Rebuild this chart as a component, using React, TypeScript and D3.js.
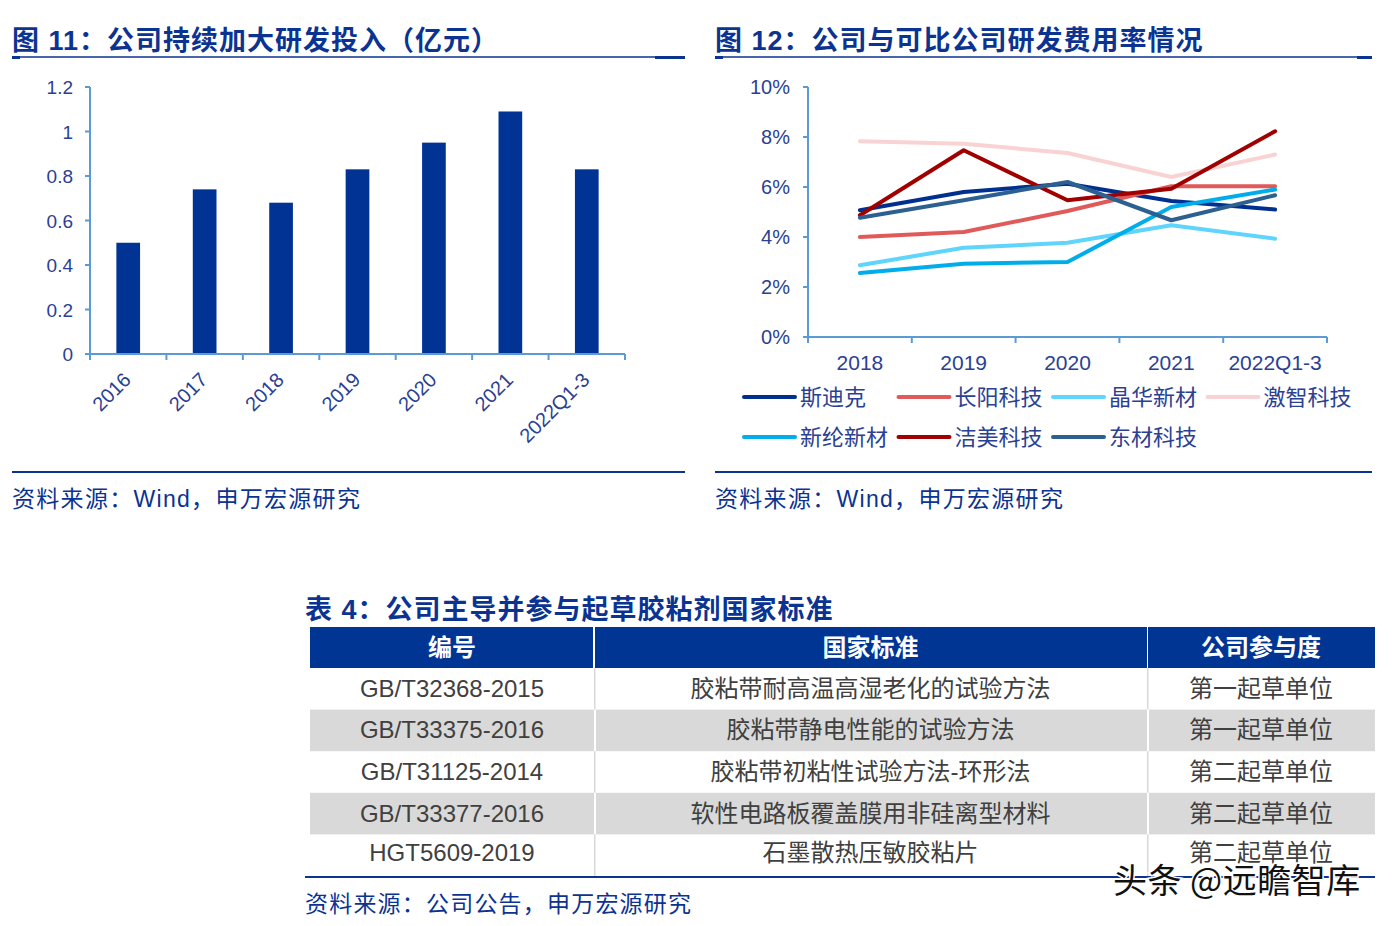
import React from "react";
import * as d3 from "d3";

const barCategories = ["2016", "2017", "2018", "2019", "2020", "2021", "2022Q1-3"];
const barValues = [0.5, 0.74, 0.68, 0.83, 0.95, 1.09, 0.83];
const barTicks = [0, 0.2, 0.4, 0.6, 0.8, 1, 1.2];

const lineCategories = ["2018", "2019", "2020", "2021", "2022Q1-3"];
const lineTicks = [0, 0.02, 0.04, 0.06, 0.08, 0.1];
const seriesNames = ["斯迪克", "长阳科技", "晶华新材", "激智科技", "新纶新材", "洁美科技", "东材科技"];
const seriesColors = ["#00308f", "#e05a5a", "#5fd4fc", "#f9d3d3", "#00adeb", "#a00000", "#2c6090"];
const sdk = [0.0507, 0.058, 0.0613, 0.0544, 0.051];
const cykj = [0.04, 0.042, 0.0504, 0.0603, 0.0603];
const jhxc = [0.0287, 0.0357, 0.0377, 0.0447, 0.0393];
const jzkj = [0.0783, 0.0773, 0.0736, 0.064, 0.073];
const xlxc = [0.0256, 0.0293, 0.03, 0.052, 0.059];
const jmkj = [0.0487, 0.0747, 0.0547, 0.0593, 0.0823];
const dckj = [0.0477, 0.0547, 0.062, 0.0467, 0.0567];
const seriesValues = [sdk, cykj, jhxc, jzkj, xlxc, jmkj, dckj];

const tableHeader = ["编号", "国家标准", "公司参与度"];
const colCode = ["GB/T32368-2015", "GB/T33375-2016", "GB/T31125-2014", "GB/T33377-2016", "HGT5609-2019"];
const colStandard = ["胶粘带耐高温高湿老化的试验方法", "胶粘带静电性能的试验方法", "胶粘带初粘性试验方法-环形法", "软性电路板覆盖膜用非硅离型材料", "石墨散热压敏胶粘片"];
const colRole = ["第一起草单位", "第一起草单位", "第二起草单位", "第二起草单位", "第二起草单位"];

const FONT = "'Liberation Sans', Arial, 'Noto Sans CJK SC', sans-serif";
const TITLE = "#0b3391";
const AXIS = "#5b9bd5";
const LABEL = "#2a4193";

export default function App() {
  // Left bar chart
  const bx = d3.scaleBand().domain(barCategories).range([90, 625]);
  const by = d3.scaleLinear().domain([0, 1.2]).range([354, 87]);
  const bw = bx.bandwidth() * 0.31;

  // Right line chart
  const lx = d3.scaleBand().domain(lineCategories).range([808, 1327]);
  const ly = d3.scaleLinear().domain([0, 0.1]).range([337, 87]);
  const line = d3
    .line<number>()
    .x((_, i) => (lx(lineCategories[i]) as number) + lx.bandwidth() / 2)
    .y((v) => ly(v));

  const colX = [310, 594, 1147, 1375];
  const rowTop = 627;
  const headerH = 41;
  const rowH = 41.6;

  return (
    <svg
      width={1397}
      height={926}
      style={{ position: "absolute", left: 0, top: 0, background: "#fff" }}
      fontFamily={FONT}
    >
      {/* Titles */}
      <text x={12} y={50} fontSize={27} fontWeight="bold" fill={TITLE} letterSpacing={1}>
        图 11：公司持续加大研发投入（亿元）
      </text>
      <line x1={12} x2={685} y1={57} y2={57} stroke={TITLE} strokeWidth={1.5} />
      <rect x={12} y={56} width={8} height={3} fill={TITLE} />
      <rect x={655} y={56} width={30} height={3} fill={TITLE} />

      <text x={715} y={50} fontSize={27} fontWeight="bold" fill={TITLE} letterSpacing={1}>
        图 12：公司与可比公司研发费用率情况
      </text>
      <line x1={715} x2={1372} y1={57} y2={57} stroke={TITLE} strokeWidth={1.5} />
      <rect x={715} y={56} width={8} height={3} fill={TITLE} />
      <rect x={1357} y={56} width={15} height={3} fill={TITLE} />

      {/* Bar chart */}
      {barValues.map((v, i) => {
        const c = (bx(barCategories[i]) as number) + bx.bandwidth() / 2;
        return <rect key={i} x={c - bw / 2} y={by(v)} width={bw} height={by(0) - by(v)} fill="#003393" />;
      })}
      <line x1={90} x2={90} y1={87} y2={354} stroke={AXIS} strokeWidth={2} />
      <line x1={90} x2={625} y1={354} y2={354} stroke={AXIS} strokeWidth={2} />
      {barTicks.map((t) => (
        <g key={t}>
          <line x1={85} x2={90} y1={by(t)} y2={by(t)} stroke={AXIS} strokeWidth={2} />
          <text x={73} y={by(t) + 7} fontSize={19} textAnchor="end" fill={LABEL}>
            {String(t)}
          </text>
        </g>
      ))}
      {barCategories.map((c) => (
        <line key={c} x1={bx(c) as number} x2={bx(c) as number} y1={354} y2={360} stroke={AXIS} strokeWidth={2} />
      ))}
      <line x1={625} x2={625} y1={354} y2={360} stroke={AXIS} strokeWidth={2} />
      {barCategories.map((c) => {
        const cx = (bx(c) as number) + bx.bandwidth() / 2 + 4;
        const cy = 381;
        return (
          <text key={c} x={cx} y={cy} fontSize={20} textAnchor="end" fill={LABEL} transform={`rotate(-45 ${cx} ${cy})`}>
            {c}
          </text>
        );
      })}

      {/* Line chart axes */}
      <line x1={808} x2={808} y1={87} y2={337} stroke={AXIS} strokeWidth={2} />
      <line x1={808} x2={1327} y1={337} y2={337} stroke={AXIS} strokeWidth={2} />
      {lineTicks.map((t) => (
        <g key={t}>
          <line x1={803} x2={808} y1={ly(t)} y2={ly(t)} stroke={AXIS} strokeWidth={2} />
          <text x={790} y={ly(t) + 7} fontSize={20} textAnchor="end" fill={LABEL}>
            {`${Math.round(t * 100)}%`}
          </text>
        </g>
      ))}
      {lineCategories.map((c) => (
        <line key={c} x1={lx(c) as number} x2={lx(c) as number} y1={337} y2={343} stroke={AXIS} strokeWidth={2} />
      ))}
      <line x1={1327} x2={1327} y1={337} y2={343} stroke={AXIS} strokeWidth={2} />
      {lineCategories.map((c) => (
        <text key={c} x={(lx(c) as number) + lx.bandwidth() / 2} y={370} fontSize={21} textAnchor="middle" fill={LABEL}>
          {c}
        </text>
      ))}
      {seriesValues.map((vals, i) => (
        <path
          key={i}
          d={line(vals) as string}
          fill="none"
          stroke={seriesColors[i]}
          strokeWidth={4}
          strokeLinejoin="round"
          strokeLinecap="round"
        />
      ))}

      {/* Legend */}
      {seriesNames.map((n, i) => {
        const col = i % 4;
        const row = Math.floor(i / 4);
        const x0 = 744 + col * 154.5;
        const y0 = 397 + row * 40;
        return (
          <g key={n}>
            <line x1={x0} x2={x0 + 51} y1={y0} y2={y0} stroke={seriesColors[i]} strokeWidth={4} strokeLinecap="round" />
            <text x={x0 + 56} y={y0 + 8} fontSize={22} fill={LABEL}>
              {n}
            </text>
          </g>
        );
      })}

      {/* Sources */}
      <line x1={12} x2={685} y1={472} y2={472} stroke={TITLE} strokeWidth={2} />
      <text x={12} y={507} fontSize={23} fill={TITLE} letterSpacing={1.3}>
        资料来源：Wind，申万宏源研究
      </text>
      <line x1={715} x2={1372} y1={472} y2={472} stroke={TITLE} strokeWidth={2} />
      <text x={715} y={507} fontSize={23} fill={TITLE} letterSpacing={1.3}>
        资料来源：Wind，申万宏源研究
      </text>

      {/* Table */}
      <text x={305} y={619} fontSize={27} fontWeight="bold" fill={TITLE} letterSpacing={1}>
        表 4：公司主导并参与起草胶粘剂国家标准
      </text>
      {tableHeader.map((h, i) => (
        <g key={h}>
          <rect x={colX[i] + (i > 0 ? 1 : 0)} y={rowTop} width={colX[i + 1] - colX[i] - 1} height={headerH} fill="#003594" />
          <text x={(colX[i] + colX[i + 1]) / 2} y={rowTop + headerH / 2 + 8} fontSize={24} fontWeight="bold" fill="#fff" textAnchor="middle">
            {h}
          </text>
        </g>
      ))}
      {colCode.map((c, r) => {
        const y0 = rowTop + headerH + r * rowH;
        return (
          <g key={c}>
            {r % 2 === 1 && <rect x={310} y={y0} width={1065} height={rowH} fill="#d9d9d9" />}
            {r % 2 === 1 &&
              [colX[1], colX[2]].map((x) => <rect key={x} x={x} y={y0} width={2} height={rowH} fill="#fff" />)}
            {r % 2 === 0 &&
              [colX[1], colX[2]].map((x) => <rect key={x} x={x} y={y0} width={1.5} height={rowH} fill="#d9d9d9" />)}
            {[c, colStandard[r], colRole[r]].map((t, j) => (
              <text
                key={j}
                x={(colX[j] + colX[j + 1]) / 2}
                y={y0 + rowH / 2 + 8 - (r === 4 ? 2 : 0)}
                fontSize={24}
                fill="#404040"
                textAnchor="middle"
              >
                {t}
              </text>
            ))}
          </g>
        );
      })}
      <line x1={305} x2={1375} y1={877} y2={877} stroke="#0b3391" strokeWidth={2} />
      <text x={305} y={912} fontSize={23} fill={TITLE} letterSpacing={1.2}>
        资料来源：公司公告，申万宏源研究
      </text>

      {/* Watermark */}
      <text
        x={1113}
        y={893}
        fontSize={34}
        fill="#111"
        stroke="#fff"
        strokeWidth={3}
        paintOrder="stroke"
        letterSpacing={0.5}
        fontFamily="'Noto Sans CJK SC', sans-serif"
      >
        头条 @远瞻智库
      </text>
    </svg>
  );
}
